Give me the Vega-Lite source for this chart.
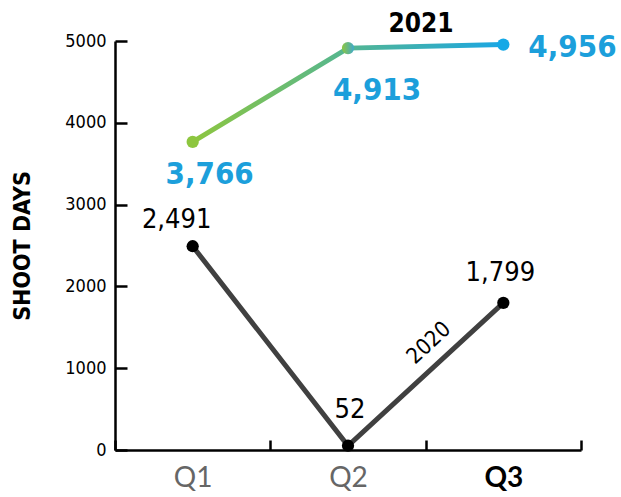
{
  "$schema": "https://vega.github.io/schema/vega-lite/v6.json",
  "width": 466,
  "height": 409,
  "autosize": "none",
  "padding": {"left": 115, "top": 41, "right": 40, "bottom": 47},
  "config": {"view": {"stroke": null}, "font": "DejaVu Sans Condensed"},
  "datasets": {
    "days": [
      {"quarter": "Q1", "year": "2020", "days": 2491},
      {"quarter": "Q2", "year": "2020", "days": 52},
      {"quarter": "Q3", "year": "2020", "days": 1799},
      {"quarter": "Q1", "year": "2021", "days": 3766},
      {"quarter": "Q2", "year": "2021", "days": 4913},
      {"quarter": "Q3", "year": "2021", "days": 4956}
    ],
    "series": [
      {"quarter": "Q2", "name": "2020", "days": 1310},
      {"quarter": "Q2", "name": "2021", "days": 5208}
    ]
  },
  "data": {"name": "days"},
  "encoding": {
    "x": {
      "field": "quarter", "type": "nominal", "sort": ["Q1", "Q2", "Q3"],
      "scale": {"domain": ["Q1", "Q2", "Q3"], "paddingInner": 0, "paddingOuter": 0},
      "axis": {
        "title": null, "tickBand": "extent", "tickSize": -10, "tickWidth": 2.5, "tickColor": "#000",
        "domainColor": "#000", "domainWidth": 2.5, "grid": false, "labelAngle": 0,
        "labelFont": "Lato", "labelFontSize": 28, "labelPadding": 24,
        "labelColor": {"condition": {"test": "datum.value === 'Q3'", "value": "#000"}, "value": "#666666"},
        "labelFontWeight": {"condition": {"test": "datum.value === 'Q3'", "value": "bold"}, "value": "normal"}
      }
    },
    "y": {
      "field": "days", "type": "quantitative",
      "scale": {"domain": [0, 5000], "nice": false},
      "axis": {
        "title": "SHOOT DAYS", "values": [0, 1000, 2000, 3000, 4000, 5000], "format": "d",
        "tickSize": -12, "tickWidth": 2.5, "tickColor": "#000",
        "domainColor": "#000", "domainWidth": 2.5, "grid": false,
        "labelFont": "DejaVu Sans Condensed", "labelFontSize": 18, "labelColor": "#000", "labelPadding": 21,
        "titleFont": "DejaVu Sans Condensed", "titleFontSize": 23, "titleFontWeight": "bold", "titleColor": "#000", "titlePadding": 30
      }
    }
  },
  "layer": [
    {
      "transform": [{"filter": "datum.year === '2021'"}],
      "mark": {"type": "line", "strokeWidth": 5,
        "stroke": {"gradient": "linear", "x1": 0, "y1": 0, "x2": 1, "y2": 0,
          "stops": [{"offset": 0, "color": "#8dc63f"}, {"offset": 1, "color": "#1aa6e4"}]}}
    },
    {
      "transform": [{"filter": "datum.year === '2020'"}],
      "mark": {"type": "line", "strokeWidth": 5, "color": "#404040"}
    },
    {
      "transform": [{"filter": "datum.year === '2020'"}],
      "mark": {"type": "point", "filled": true, "size": 150, "opacity": 1, "color": "#000"}
    },
    {
      "transform": [{"filter": "datum.year === '2021' && datum.quarter !== 'Q2'"}],
      "mark": {"type": "point", "filled": true, "size": 150, "opacity": 1},
      "encoding": {
        "color": {"field": "quarter", "type": "nominal", "scale": {"domain": ["Q1", "Q3"], "range": ["#8dc63f", "#14a8e6"]}, "legend": null}
      }
    },
    {
      "transform": [{"filter": "datum.year === '2021' && datum.quarter === 'Q2'"}],
      "mark": {"type": "point", "filled": true, "size": 150, "opacity": 1,
        "fill": {"gradient": "linear", "x1": 0, "y1": 0, "x2": 1, "y2": 0,
          "stops": [{"offset": 0, "color": "#8dc63f"}, {"offset": 1, "color": "#3fa9cc"}]}}
    },
    {
      "transform": [{"filter": "datum.year === '2021' && datum.quarter === 'Q1'"}],
      "mark": {"type": "text", "fontWeight": "bold", "fontSize": 31, "color": "#1c9fdb", "dx": 17, "dy": 33},
      "encoding": {"text": {"field": "days", "type": "quantitative", "format": ","}}
    },
    {
      "transform": [{"filter": "datum.year === '2021' && datum.quarter === 'Q2'"}],
      "mark": {"type": "text", "fontWeight": "bold", "fontSize": 31, "color": "#1c9fdb", "dx": 29, "dy": 43},
      "encoding": {"text": {"field": "days", "type": "quantitative", "format": ","}}
    },
    {
      "transform": [{"filter": "datum.year === '2021' && datum.quarter === 'Q3'"}],
      "mark": {"type": "text", "fontWeight": "bold", "fontSize": 31, "color": "#1c9fdb", "align": "left", "dx": 25, "dy": 3},
      "encoding": {"text": {"field": "days", "type": "quantitative", "format": ","}}
    },
    {
      "transform": [{"filter": "datum.year === '2020' && datum.quarter === 'Q1'"}],
      "mark": {"type": "text", "fontSize": 27, "color": "#000", "dx": -16, "dy": -26},
      "encoding": {"text": {"field": "days", "type": "quantitative", "format": ","}}
    },
    {
      "transform": [{"filter": "datum.year === '2020' && datum.quarter === 'Q2'"}],
      "mark": {"type": "text", "fontSize": 27, "color": "#000", "dx": 2, "dy": -36},
      "encoding": {"text": {"field": "days", "type": "quantitative", "format": ","}}
    },
    {
      "transform": [{"filter": "datum.year === '2020' && datum.quarter === 'Q3'"}],
      "mark": {"type": "text", "fontSize": 27, "color": "#000", "dx": -3, "dy": -30},
      "encoding": {"text": {"field": "days", "type": "quantitative", "format": ","}}
    },
    {
      "data": {"name": "series"},
      "transform": [{"filter": "datum.name === '2020'"}],
      "mark": {"type": "text", "fontSize": 22, "color": "#000", "angle": -43, "dx": 59, "dy": 55},
      "encoding": {"text": {"field": "name"}}
    },
    {
      "data": {"name": "series"},
      "transform": [{"filter": "datum.name === '2021'"}],
      "mark": {"type": "text", "fontWeight": "bold", "fontSize": 26, "color": "#000", "dx": 73},
      "encoding": {"text": {"field": "name"}}
    }
  ]
}
